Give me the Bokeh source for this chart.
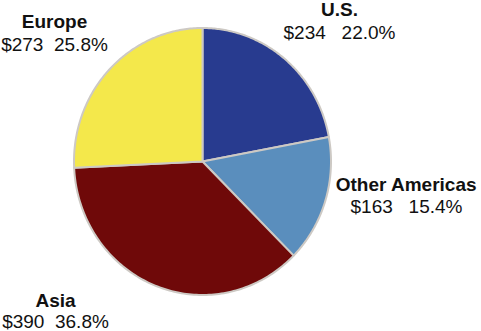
import numpy as np
from bokeh.plotting import figure
from bokeh.models import Range1d, ColumnDataSource
from bokeh.core.properties import value
from bokeh.embed import file_html
from bokeh.resources import INLINE

regions = ["U.S.", "Other Americas", "Asia", "Europe"]
amounts = [234, 163, 390, 273]
percents = [22.0, 15.4, 36.8, 25.8]
colors = ["#283b8f", "#5a8ebd", "#6f0909", "#f4e84b"]
gaps = [3, 3, 2, 2]
value_labels = ["$%d%s%.1f%%" % (a, "\u00a0" * g, pc) for a, g, pc in zip(amounts, gaps, percents)]

W, H = 481, 331
cx, cy = 202, H - 161
rx, ry = 128.5, 133.5

# label anchor positions (centre x, baseline y of first line)
shift = 6
label_x = [339, 406, 55, 54]
label_y1 = [H - 15 + shift, H - 190 + shift, H - 306 + shift, H - 26.5 + shift]
label_y2 = [H - 37.5 + shift, H - 211.5 + shift, H - 326.5 + shift, H - 49.5 + shift]

p = figure(width=W, height=H, x_range=Range1d(0, W), y_range=Range1d(0, H),
           output_backend="svg", toolbar_location=None, min_border=0)
p.axis.visible = False
p.grid.visible = False
p.outline_line_color = None
p.background_fill_color = "white"
p.border_fill_color = "white"

total = float(sum(amounts))
cum = np.cumsum([0] + amounts) / total
xs, ys = [], []
for i in range(len(amounts)):
    a0 = np.pi / 2 - 2 * np.pi * cum[i]
    a1 = np.pi / 2 - 2 * np.pi * cum[i + 1]
    t = np.linspace(a0, a1, 120)
    xs.append([cx] + list(cx + rx * np.cos(t)) + [cx])
    ys.append([cy] + list(cy + ry * np.sin(t)) + [cy])

src = ColumnDataSource(dict(xs=xs, ys=ys, color=colors))
p.patches("xs", "ys", source=src, fill_color="color", line_color="#cdc9c4",
          line_width=2, line_join="round")

lab = ColumnDataSource(dict(x=label_x, y1=label_y1, y2=label_y2,
                            name=regions, val=value_labels))
p.text("x", "y1", text="name", source=lab, text_font=value("Liberation Sans"),
       text_font_size="19px", text_font_style="bold", text_align="center",
       text_baseline="alphabetic", text_color="#111111")
p.text("x", "y2", text="val", source=lab, text_font=value("Liberation Sans"),
       text_font_size="19px", text_align="center",
       text_baseline="alphabetic", text_color="#111111")

open("out.html", "w").write(file_html(p, INLINE))
